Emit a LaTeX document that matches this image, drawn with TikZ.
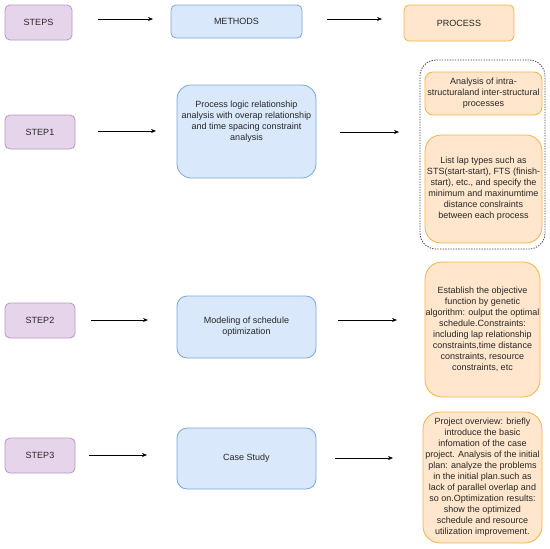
\documentclass[tikz,border=0pt]{standalone}
\usepackage{fontspec}
\setmainfont{Liberation Sans}
\usetikzlibrary{arrows.meta}
\definecolor{pfill}{HTML}{E6D5EA}
\definecolor{pdraw}{HTML}{B996C6}
\definecolor{bfill}{HTML}{DAE8FC}
\definecolor{bdraw}{HTML}{7FA6DA}
\definecolor{ofill}{HTML}{FFE6CC}
\definecolor{odraw}{HTML}{F2B544}
\definecolor{txt}{HTML}{262626}
\begin{document}
\begin{tikzpicture}[x=1pt,y=-1pt,
  every node/.style={font=\fontsize{9}{11}\selectfont, text=txt, align=center, inner sep=0pt},
  stepbox/.style={draw=pdraw, fill=pfill, line width=0.8pt, rounded corners=5pt},
  methbox/.style={draw=bdraw, fill=bfill, line width=0.8pt, rounded corners=#1},
  methbox/.default=5pt,
  procbox/.style={draw=odraw, fill=ofill, line width=0.8pt, rounded corners=#1},
  procbox/.default=5pt,
  arr/.style={-{Stealth[length=5pt,width=4pt]}, line width=0.7pt, black},
  sz/.style 2 args={minimum width=#1pt, minimum height=#2pt}
]
\useasboundingbox (0,0) rectangle (550,549);

% header row
\node[stepbox, sz={67}{35}] (steps) at (38.5,22.5) {STEPS};
\node[methbox, sz={131}{33}] (methods) at (236.5,21.5) {METHODS};
\node[procbox, sz={110}{36}] (process) at (459,23) {PROCESS};
\coordinate (a1s) at (98,19); \coordinate (a1e) at (153,19);
\coordinate (a2s) at (327,19); \coordinate (a2e) at (382,19);
\draw[arr] (a1s) -- (a1e);
\draw[arr] (a2s) -- (a2e);

% step 1
\node[stepbox, sz={70}{34}] (step1) at (40,132) {STEP1};
\node[methbox=14pt, sz={139}{93}] (m1) at (246.5,131.5) {};
\node (m1t) at (246.5,122) {Process logic relationship\\analysis with overap relationship\\and time spacing constraint\\analysis};
\node[draw=black!75, dash pattern=on 1.3pt off 1.3pt, line width=0.8pt, rounded corners=16pt, sz={125}{189}] (grp) at (482.5,154.5) {};
\node[procbox=8pt, sz={117}{43}] (p1a) at (483.5,93.5) {Analysis of intra-\\structuraland inter-structural\\processes};
\node[procbox=16pt, sz={117}{108}] (p1b) at (483.5,189) {List lap types such as\\STS(start-start), FTS (finish-\\start), etc., and specify the\\minimum and maxinumtime\\distance conslraints\\between each process};
\coordinate (b1s) at (98,131); \coordinate (b1e) at (156,131);
\coordinate (b2s) at (340,132); \coordinate (b2e) at (399,132);
\draw[arr] (b1s) -- (b1e);
\draw[arr] (b2s) -- (b2e);

% step 2
\node[stepbox, sz={70}{35}] (step2) at (40,320.5) {STEP2};
\node[methbox=10pt, sz={139}{62}] (m2) at (246.5,327) {Modeling of schedule\\optimization};
\node[procbox=17pt, sz={115}{135}] (p2) at (482.5,329.5) {\fontsize{9}{10.9}\selectfont Establish the objective\\function by genetic\\algorithm: oulput the optimal\\schedule.Constraints:\\including lap relationship\\constraints,time distance\\constraints, resource\\constraints, etc};
\coordinate (c1s) at (91,320); \coordinate (c1e) at (148,320);
\coordinate (c2s) at (338,320); \coordinate (c2e) at (397,320);
\draw[arr] (c1s) -- (c1e);
\draw[arr] (c2s) -- (c2e);

% step 3
\node[stepbox, sz={70}{35}] (step3) at (40,455.5) {STEP3};
\node[methbox=10pt, sz={139}{61}] (m3) at (246.5,458.5) {Case Study};
\node[procbox=17pt, sz={119}{131}] (p3) at (482.5,477.5) {\fontsize{9}{10.6}\selectfont Project overview: briefly\\introduce the basic\\infomation of the case\\project. Analysis of the initial\\plan: analyze the problems\\in the initial plan.such as\\lack of parallel overlap and\\so on.Optimization results:\\show the optimized\\schedule and resource\\utilization improvement.};
\coordinate (d1s) at (89,455); \coordinate (d1e) at (147,455);
\coordinate (d2s) at (335,458); \coordinate (d2e) at (393,458);
\draw[arr] (d1s) -- (d1e);
\draw[arr] (d2s) -- (d2e);
\end{tikzpicture}
\end{document}
